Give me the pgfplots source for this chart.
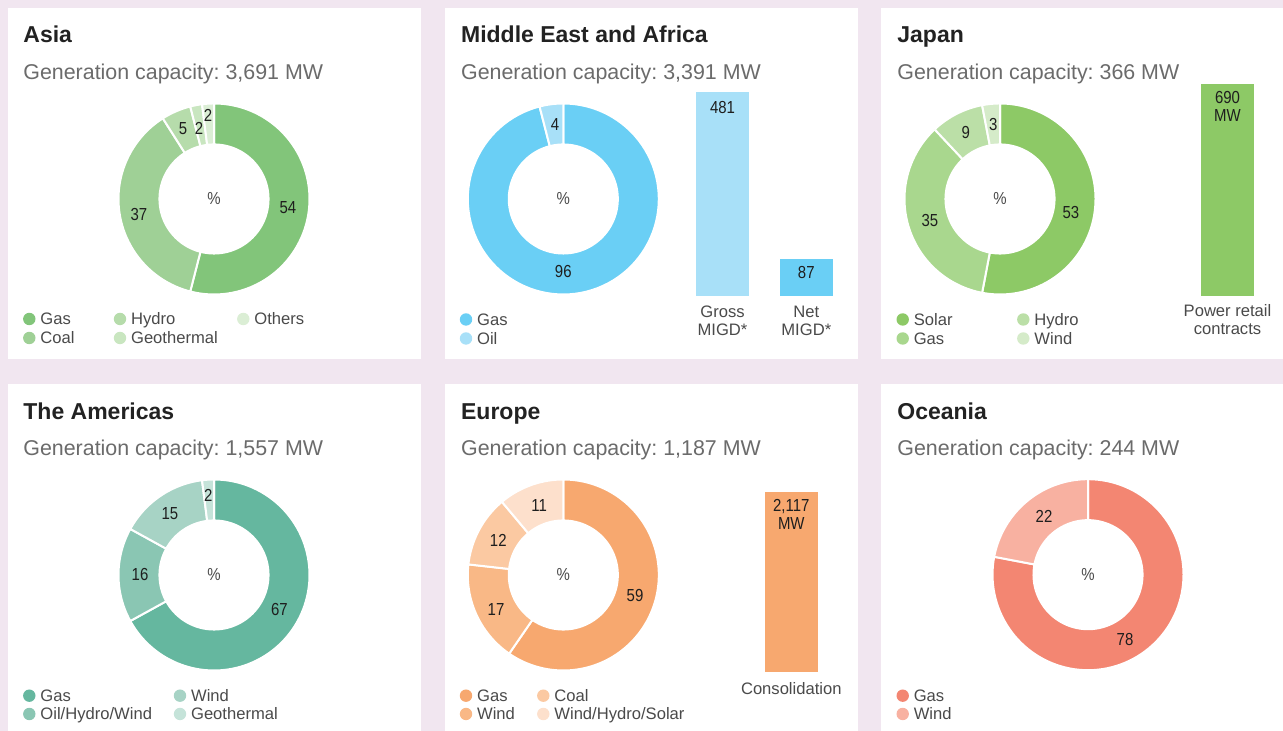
\documentclass[border=0pt]{standalone}
\usepackage{fontspec}
\setmainfont{Liberation Sans}
\newfontfamily\condfont[FakeStretch=0.86]{Liberation Sans}
\usepackage{pgfplots}
\pgfplotsset{compat=1.18}
\frenchspacing

\definecolor{bg}{HTML}{F1E6F0}
\definecolor{ttlc}{HTML}{222222}
\definecolor{subc}{HTML}{6B6B6B}
\definecolor{legc}{HTML}{4A4A4A}
\definecolor{valc}{HTML}{1E1E1E}
\definecolor{asGas}{HTML}{82C57A}
\definecolor{asCoal}{HTML}{9FD096}
\definecolor{asHydro}{HTML}{B6DCAB}
\definecolor{asGeo}{HTML}{C9E6C0}
\definecolor{asOth}{HTML}{DBEED5}
\definecolor{meGas}{HTML}{6ACFF5}
\definecolor{meOil}{HTML}{A8E0F8}
\definecolor{jpSolar}{HTML}{8DC966}
\definecolor{jpGas}{HTML}{A9D78E}
\definecolor{jpHydro}{HTML}{BBDFA7}
\definecolor{jpWind}{HTML}{D5EBC9}
\definecolor{amGas}{HTML}{65B79F}
\definecolor{amOHW}{HTML}{8AC6B3}
\definecolor{amWind}{HTML}{A7D3C5}
\definecolor{amGeo}{HTML}{C5E3D9}
\definecolor{euGas}{HTML}{F7A86F}
\definecolor{euWind}{HTML}{F9B886}
\definecolor{euCoal}{HTML}{FBC9A2}
\definecolor{euWHS}{HTML}{FDE0CC}
\definecolor{ocGas}{HTML}{F38672}
\definecolor{ocWind}{HTML}{F8B1A1}

\def\rin{0.571}
\def\tot{100}
% donut slice from cumulative share #1 to #2 (of \tot), clockwise from top
\newcommand{\slice}[3]{%
\addplot[fill=#3, draw=white, line width=1pt, line join=round, domain=0:2.02, samples=203, variable=\t]
({ifthenelse(\t<=1.005,1,ifthenelse(\t<=2.005,\rin,1))*sin((360/\tot)*ifthenelse(\t<=1.005,#1+(#2-#1)*min(\t,1),ifthenelse(\t<=2.005,#2-(#2-#1)*min(max((\t-1.01)/0.98,0),1),#1)))},
 {ifthenelse(\t<=1.005,1,ifthenelse(\t<=2.005,\rin,1))*cos((360/\tot)*ifthenelse(\t<=1.005,#1+(#2-#1)*min(\t,1),ifthenelse(\t<=2.005,#2-(#2-#1)*min(max((\t-1.01)/0.98,0),1),#1)))});
}
\newcommand{\slab}[3]{\node[vlab] at ([shift={(#1:#2)}]axis cs:0,0) {#3};}
\newcommand{\pct}{\node[vlab, text=legc] at (axis cs:0,0) {\%};}
\newcommand{\leg}[4]{\fill[#3] (#1,#2-6) circle[radius=3.1pt];
  \node[legt] at (#1+10.7,#2) {#4};}

\pgfplotsset{
  donut/.style={scale only axis, width=95.5pt, height=95.5pt, xmin=-1, xmax=1,
    ymin=-1, ymax=1, hide axis, clip=false, anchor=center},
  baraxis/.style={scale only axis, ybar, bar shift=0pt, ymin=0, enlargelimits=false,
    axis y line=none, axis x line*=bottom, x axis line style={draw=none},
    major tick length=0pt, ytick=\empty, clip=false, anchor=south west,
    xticklabel style={font=\fontsize{8.3}{9}\selectfont, text=legc, align=center,
      inner sep=0pt, yshift=-5.1pt}},
}
\tikzset{
  ttl/.style={anchor=base west, inner sep=0pt, text=ttlc, font=\fontsize{11.5}{13}\selectfont\bfseries},
  sub/.style={anchor=base west, inner sep=0pt, text=subc, font=\fontsize{10.7}{12}\selectfont},
  legt/.style={anchor=base west, inner sep=0pt, text=legc, font=\fontsize{8.3}{10}\selectfont},
  vlab/.style={inner sep=0pt, text=valc, font=\fontsize{8.7}{9.2}\condfont, align=center},
}

\begin{document}
\begin{tikzpicture}
\useasboundingbox (0pt,0pt) rectangle (641.5pt,365.5pt);
\begin{scope}[x=0.5pt,y=-0.5pt,shift={(0pt,365.5pt)}]
\fill[bg] (0,0) rectangle (1283,731);
\fill[white] (8,8) rectangle (421,359);
\fill[white] (445,8) rectangle (857.7,359);
\fill[white] (881,8) rectangle (1283,359);
\fill[white] (8,384) rectangle (421,731);
\fill[white] (445,384) rectangle (857.7,731);
\fill[white] (881,384) rectangle (1283,731);

% titles
\node[ttl] at (23,42.7) {Asia};
\node[sub] at (23,80) {Generation capacity: 3,691 MW};
\node[ttl] at (460.7,42.7) {Middle East and Africa};
\node[sub] at (460.7,80) {Generation capacity: 3,391 MW};
\node[ttl] at (897,42.7) {Japan};
\node[sub] at (897,80) {Generation capacity: 366 MW};
\node[ttl] at (23,419.3) {The Americas};
\node[sub] at (23,456) {Generation capacity: 1,557 MW};
\node[ttl] at (460.7,419.3) {Europe};
\node[sub] at (460.7,456) {Generation capacity: 1,187 MW};
\node[ttl] at (897,419.3) {Oceania};
\node[sub] at (897,456) {Generation capacity: 244 MW};

% legends
\leg{29.3}{325}{asGas}{Gas}
\leg{29.3}{344}{asCoal}{Coal}
\leg{120}{325}{asHydro}{Hydro}
\leg{120}{344}{asGeo}{Geothermal}
\leg{243.3}{325}{asOth}{Others}
\leg{466}{325.5}{meGas}{Gas}
\leg{466}{344.5}{meOil}{Oil}
\leg{902.7}{325.5}{jpSolar}{Solar}
\leg{902.7}{344.5}{jpGas}{Gas}
\leg{1023.3}{325.5}{jpHydro}{Hydro}
\leg{1023.3}{344.5}{jpWind}{Wind}
\leg{29.3}{701.7}{amGas}{Gas}
\leg{29.3}{720}{amOHW}{Oil/Hydro/Wind}
\leg{180}{701.7}{amWind}{Wind}
\leg{180}{720}{amGeo}{Geothermal}
\leg{466}{701.7}{euGas}{Gas}
\leg{466}{720}{euWind}{Wind}
\leg{543.3}{701.7}{euCoal}{Coal}
\leg{543.3}{720}{euWHS}{Wind/Hydro/Solar}
\leg{902.7}{701.7}{ocGas}{Gas}
\leg{902.7}{720}{ocWind}{Wind}
\end{scope}

% Asia
\begin{axis}[donut, at={(107pt,266pt)}]
\slice{0}{54}{asGas}
\slice{54}{91}{asCoal}
\slice{91}{96}{asHydro}
\slice{96}{98}{asGeo}
\slice{98}{100}{asOth}
\slab{-6.9}{37.25pt}{54}
\slab{192}{38.35pt}{37}
\slab{113.9}{38.3pt}{5}
\slab{101.9}{36.3pt}{2}
\slab{94.1}{42.1pt}{2}
\pct
\end{axis}

% Middle East and Africa
\begin{axis}[donut, at={(281.65pt,266pt)}]
\slice{0}{96}{meGas}
\slice{96}{100}{meOil}
\slab{-90}{36.35pt}{96}
\slab{96.4}{37.25pt}{4}
\pct
\end{axis}
\begin{axis}[baraxis, at={(340.3pt,217.65pt)}, width=83.8pt, height=101.85pt,
  xmin=-0.5, xmax=1.5, ymax=481, bar width=26.5pt, xtick={0,1},
  xticklabels={Gross\\MIGD*, Net\\MIGD*}]
\addplot[fill=meOil, draw=none] coordinates {(0,481)};
\addplot[fill=meGas, draw=none] coordinates {(1,87)};
\node[vlab, anchor=north, yshift=-4.6pt] at (axis cs:0,481) {481};
\node[vlab, anchor=north, yshift=-3.8pt] at (axis cs:1,87) {87};
\end{axis}

% Japan
\begin{axis}[donut, at={(500pt,266pt)}]
\slice{0}{53}{jpSolar}
\slice{53}{88}{jpGas}
\slice{88}{97}{jpHydro}
\slice{97}{100}{jpWind}
\slab{-10.6}{36.1pt}{53}
\slab{197.4}{36.7pt}{35}
\slab{117.2}{37.5pt}{9}
\slab{95.1}{37.5pt}{3}
\pct
\end{axis}
\begin{axis}[baraxis, at={(598.75pt,217.65pt)}, width=30pt, height=105.85pt,
  xmin=-0.5, xmax=0.5, ymax=690, bar width=26.5pt, xtick={0},
  xticklabels={Power retail\\contracts}, xticklabel style={yshift=1pt}]
\addplot[fill=jpSolar, draw=none] coordinates {(0,690)};
\node[vlab, anchor=north, yshift=-3.3pt] at (axis cs:0,690) {690\\MW};
\end{axis}

% The Americas
\begin{axis}[donut, at={(107pt,78pt)}]
\slice{0}{67}{amGas}
\slice{67}{83}{amOHW}
\slice{83}{98}{amWind}
\slice{98}{100}{amGeo}
\slab{-27.7}{36.9pt}{67}
\slab{180}{37pt}{16}
\slab{125.5}{37.9pt}{15}
\slab{94}{40.1pt}{2}
\pct
\end{axis}

% Europe (shares sum to 99)
\def\tot{99}
\begin{axis}[donut, at={(281.65pt,78pt)}]
\slice{0}{59}{euGas}
\slice{59}{76}{euWind}
\slice{76}{88}{euCoal}
\slice{88}{99}{euWHS}
\slab{-16.3}{37.35pt}{59}
\slab{207}{37.75pt}{17}
\slab{152.2}{36.75pt}{12}
\slab{109.1}{37pt}{11}
\pct
\end{axis}
\def\tot{100}
\begin{axis}[baraxis, at={(380.65pt,29.65pt)}, width=30pt, height=89.85pt,
  xmin=-0.5, xmax=0.5, ymax=2117, bar width=26.4pt, xtick={0},
  xticklabels={Consolidation}]
\addplot[fill=euGas, draw=none] coordinates {(0,2117)};
\node[vlab, anchor=north, yshift=-3.5pt] at (axis cs:0,2117) {2,117\\MW};
\end{axis}

% Oceania
\begin{axis}[donut, at={(544pt,78.15pt)}]
\slice{0}{78}{ocGas}
\slice{78}{100}{ocWind}
\slab{-60.2}{37.25pt}{78}
\slab{127.2}{36.4pt}{22}
\pct
\end{axis}
\end{tikzpicture}
\end{document}
